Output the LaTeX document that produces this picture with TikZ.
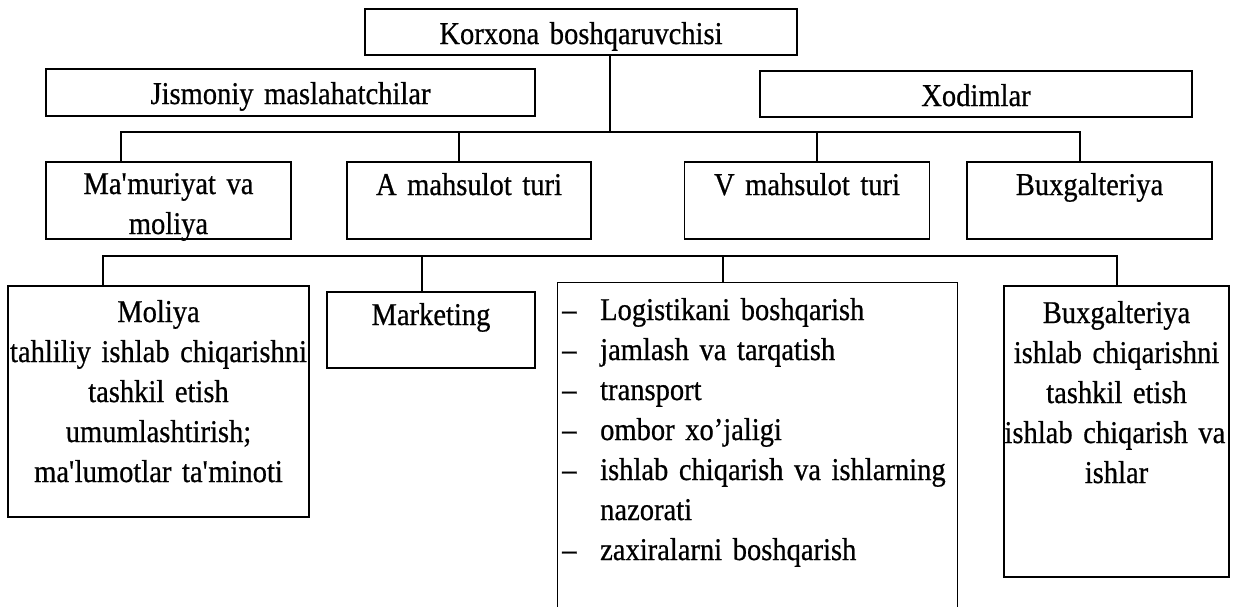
\documentclass[tikz,border=0pt]{standalone}
\usepackage{fontspec}
\setmainfont{Liberation Serif}[FakeStretch=0.9, FakeBold=0.6, WordSpace=0.85]
\begin{document}
\begin{tikzpicture}[x=1pt,y=-1pt,
  box/.style={draw, rectangle, line width=1.6pt, inner sep=0pt},
  txt/.style={inner sep=0pt, anchor=base, align=center,
    font=\fontsize{31.7}{40}\selectfont},
  wire/.style={line width=1.6pt, line join=miter}]
\useasboundingbox (0,0) rectangle (1239,606);
\clip (0,0) rectangle (1239,606);

% ---- top level
\node[box, minimum width=432pt, minimum height=46pt] (korxona) at (581,32) {};
\node[txt, text width=430pt] (korxona-t) at (581,44) {Korxona boshqaruvchisi};

\node[box, minimum width=489pt, minimum height=47pt] (jismoniy) at (290.5,92.5) {};
\node[txt, text width=480pt] (jismoniy-t) at (290.5,104) {Jismoniy maslahatchilar};

\node[box, minimum width=432pt, minimum height=46pt] (xodim) at (976,94) {};
\node[txt, text width=430pt] (xodim-t) at (976,106) {Xodimlar};

% ---- second row
\node[box, minimum width=245pt, minimum height=77pt] (mam) at (168.5,200.5) {};
\node[txt, text width=300pt] (mam-t) at (168.5,194) {Ma\textquotesingle muriyat va\\moliya};

\node[box, minimum width=244pt, minimum height=77pt] (amah) at (469,200.5) {};
\node[txt, text width=300pt] (amah-t) at (469,195) {A mahsulot turi};

\node[box, minimum width=245pt, minimum height=77pt] (vmah) at (807,200.5) {};
\node[txt, text width=300pt] (vmah-t) at (807,195) {V mahsulot turi};

\node[box, minimum width=245pt, minimum height=77pt] (buxg) at (1089.5,200.5) {};
\node[txt, text width=300pt] (buxg-t) at (1089.5,195) {Buxgalteriya};

% ---- third row
\node[box, minimum width=301pt, minimum height=231pt] (moliya) at (158.5,401.5) {};
\node[txt, text width=360pt] (moliya-t) at (158.5,322)
  {Moliya\\tahliliy ishlab chiqarishni\\tashkil etish\\umumlashtirish;\\ma\textquotesingle lumotlar ta\textquotesingle minoti};

\node[box, minimum width=208pt, minimum height=76pt] (market) at (431,330) {};
\node[txt, text width=260pt] (market-t) at (431,325) {Marketing};

\node[box, minimum width=400pt, minimum height=360pt] (vlist) at (757.5,462.5) {};
\node[txt, anchor=base west, align=left, text width=430pt] (vlist-t) at (562,320)
  {\makebox[38pt][l]{–}Logistikani boshqarish\\
   \makebox[38pt][l]{–}jamlash va tarqatish\\
   \makebox[38pt][l]{–}transport\\
   \makebox[38pt][l]{–}ombor xo’jaligi\\
   \makebox[38pt][l]{–}\makebox[355pt][s]{ishlab chiqarish va ishlarning}\\
   \hspace*{38pt}nazorati\\
   \makebox[38pt][l]{–}zaxiralarni boshqarish};

\node[box, minimum width=225pt, minimum height=291pt] (buxg2) at (1116.5,431.5) {};
\node[txt, text width=300pt] (buxg2-t) at (1116.5,323)
  {Buxgalteriya\\ishlab chiqarishni\\tashkil etish\\\makebox[224pt][s]{ishlab chiqarish va}\\ishlar};

% ---- connectors between the top and the second row
\coordinate (hub) at (610,132);
\coordinate (d1) at (121,132);
\coordinate (d2) at (459,132);
\coordinate (d3) at (817,132);
\coordinate (d4) at (1080,132);
\draw[wire] (korxona.south -| hub) -- (hub);
\draw[wire] (mam.north -| d1) -- (d1) -- (d4) -- (buxg.north -| d4);
\draw[wire] (d2) -- (amah.north -| d2);
\draw[wire] (d3) -- (vmah.north -| d3);

% ---- connectors of the third row
\coordinate (e1) at (103,256);
\coordinate (e2) at (422,256);
\coordinate (e3) at (723,256);
\coordinate (e4) at (1117,256);
\draw[wire] (moliya.north -| e1) -- (e1) -- (e4) -- (buxg2.north -| e4);
\draw[wire] (e2) -- (market.north -| e2);
\draw[wire] (e3) -- (vlist.north -| e3);
\end{tikzpicture}
\end{document}
